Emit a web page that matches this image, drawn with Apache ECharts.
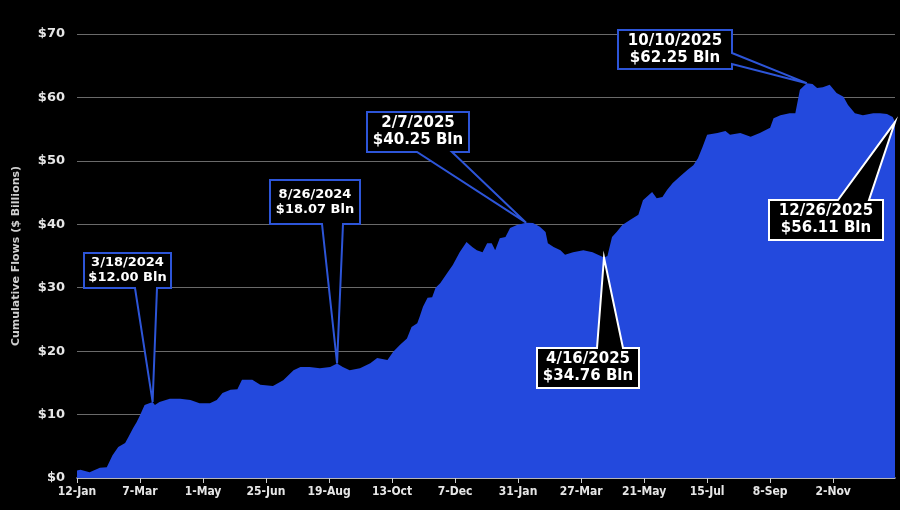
<!DOCTYPE html>
<html>
<head>
<meta charset="utf-8">
<script src="https://cdn.jsdelivr.net/npm/echarts@6/dist/echarts.min.js"></script>
<style>
html,body{margin:0;padding:0;background:#000;}
#chart{width:900px;height:510px;}
</style>
</head>
<body>
<div id="chart"></div>
<script>
// ---- DATA ----
const dates = [
'2024-01-12','2024-01-15','2024-01-23','2024-02-01','2024-02-07','2024-02-12','2024-02-17','2024-02-23','2024-02-26','2024-03-01',
'2024-03-04','2024-03-07','2024-03-11','2024-03-18','2024-03-20','2024-03-24','2024-04-02','2024-04-11','2024-04-20','2024-04-28',
'2024-05-07','2024-05-13','2024-05-18','2024-05-25','2024-05-31','2024-06-04','2024-06-13','2024-06-20','2024-07-01','2024-07-10',
'2024-07-19','2024-07-25','2024-08-02','2024-08-11','2024-08-20','2024-08-26','2024-08-31','2024-09-06','2024-09-15','2024-09-24',
'2024-09-30','2024-10-09','2024-10-14','2024-10-20','2024-10-26','2024-10-30','2024-11-04','2024-11-06','2024-11-09','2024-11-13',
'2024-11-17','2024-11-20','2024-11-24','2024-11-30','2024-12-05','2024-12-11','2024-12-17','2024-12-22','2024-12-26','2024-12-31',
'2025-01-04','2025-01-08','2025-01-11','2025-01-15','2025-01-20','2025-01-24','2025-01-30','2025-02-07','2025-02-13','2025-02-19',
'2025-02-24','2025-02-26','2025-03-03','2025-03-09','2025-03-13','2025-03-20','2025-03-29','2025-04-06','2025-04-16','2025-04-19',
'2025-04-23','2025-04-27','2025-05-02','2025-05-09','2025-05-16','2025-05-20','2025-05-28','2025-06-01','2025-06-06','2025-06-10',
'2025-06-15','2025-06-21','2025-06-28','2025-07-03','2025-07-07','2025-07-11','2025-07-15','2025-07-24','2025-07-31','2025-08-04',
'2025-08-13','2025-08-22','2025-08-30','2025-09-08','2025-09-11','2025-09-17','2025-09-25','2025-09-30','2025-10-04','2025-10-10',
'2025-10-15','2025-10-19','2025-10-24','2025-10-30','2025-11-05','2025-11-11','2025-11-15','2025-11-21','2025-11-28','2025-12-07',
'2025-12-13','2025-12-19','2025-12-24','2025-12-26'
];
const flows = [
1.2,1.3,0.9,1.6,1.7,3.6,4.9,5.5,6.5,7.9,
8.8,9.9,11.5,12.0,11.5,12.0,12.5,12.5,12.3,11.8,
11.8,12.3,13.4,13.9,14.0,15.5,15.5,14.7,14.5,15.4,
17.0,17.5,17.5,17.3,17.5,18.07,17.5,17.0,17.3,18.1,
18.9,18.6,19.9,21.0,22.0,23.8,24.4,25.4,27.0,28.4,
28.5,30.0,30.7,32.3,33.6,35.6,37.2,36.4,35.9,35.6,
37.0,37.0,35.9,37.8,38.0,39.4,39.9,40.25,40.2,39.6,
38.8,37.0,36.4,35.9,35.2,35.6,35.9,35.6,34.76,35.0,
38.0,38.8,39.9,40.7,41.5,43.8,45.1,44.1,44.3,45.4,
46.5,47.5,48.6,49.3,50.4,52.2,54.1,54.4,54.7,54.1,
54.4,53.8,54.4,55.2,56.7,57.2,57.5,57.5,61.2,62.25,
62.1,61.5,61.6,62.0,60.7,60.1,58.8,57.5,57.2,57.5,
57.5,57.4,56.9,56.11
];
const axisStartDate = '2024-01-12';
const axisEndDate = '2025-12-26';
const tickIntervalDays = 55;
const yTicks = [0,10,20,30,40,50,60,70];
const calloutDates = ['2024-03-18','2024-08-26','2025-02-07','2025-04-16','2025-10-10','2025-12-26'];
const calloutValues = [12.00,18.07,40.25,34.76,62.25,56.11];
const monthNames = ['Jan','Feb','Mar','Apr','May','Jun','Jul','Aug','Sep','Oct','Nov','Dec'];

// ---- helpers ----
function utc(s){const p=s.split('-').map(Number);return Date.UTC(p[0],p[1]-1,p[2]);}
const DAY = 86400000;
const t0 = utc(axisStartDate);
function dayOff(s){return Math.round((utc(s)-t0)/DAY);}
const xMax = dayOff(axisEndDate);
const seriesData = dates.map((d,i)=>[dayOff(d), flows[i]]);

// ---- layout / style for callouts ----
const BLUE_BORDER = '#2d55d8';
const calloutLayout = [
  {x:84, y:253, w:87,  h:35, edge:'bottom', a:135, b:157, color:BLUE_BORDER, fs:13, lh:15},
  {x:270,y:180, w:90,  h:44, edge:'bottom', a:322, b:343, color:BLUE_BORDER, fs:13, lh:15},
  {x:367,y:112, w:102, h:40, edge:'bottom', a:417, b:452, color:BLUE_BORDER, fs:15, lh:17},
  {x:537,y:348, w:102, h:40, edge:'top',    a:597, b:623, color:'#ffffff',   fs:15, lh:17},
  {x:618,y:30,  w:114, h:39, edge:'right',  a:53,  b:64,  color:BLUE_BORDER, fs:15, lh:17},
  {x:769,y:200, w:114, h:40, edge:'top',    a:838, b:869, color:'#ffffff',   fs:15, lh:17}
];

const chart = echarts.init(document.getElementById('chart'));
const labelFont = 'DejaVu Sans';
const condFont = "'DejaVu Sans Condensed', 'Liberation Sans Narrow', 'Liberation Sans', sans-serif";
chart.setOption({
  backgroundColor:'#000',
  animation:false,
  grid:{left:77, right:5, top:34, bottom:32, containLabel:false},
  xAxis:{
    type:'value', min:0, max:xMax, interval:tickIntervalDays,
    axisLine:{show:true, lineStyle:{color:'#cfcfcf', width:1.5}},
    axisTick:{show:true, length:5, lineStyle:{color:'#cfcfcf'}},
    splitLine:{show:false},
    axisLabel:{
      color:'#e6e6e6', fontFamily:condFont, fontWeight:'bold', fontSize:12, margin:8,
      showMaxLabel:false,
      formatter:function(v){
        if (v % tickIntervalDays !== 0) return '';
        const d = new Date(t0 + v*DAY);
        return d.getUTCDate() + '-' + monthNames[d.getUTCMonth()];
      }
    }
  },
  yAxis:{
    type:'value', min:yTicks[0], max:yTicks[yTicks.length-1], interval:yTicks[1]-yTicks[0],
    name:'Cumulative Flows ($ Billions)', nameLocation:'middle', nameGap:55, nameRotate:90,
    nameTextStyle:{color:'#d0d0d0', fontFamily:labelFont, fontWeight:'bold', fontSize:11},
    axisLine:{show:false}, axisTick:{show:false},
    splitLine:{show:true, lineStyle:{color:'#6a6a6a', width:1}},
    axisLabel:{color:'#e6e6e6', fontFamily:labelFont, fontWeight:'bold', fontSize:13, margin:12,
      formatter:function(v){return '$'+v;}}
  },
  series:[{
    type:'line', data:seriesData, symbol:'none', smooth:false,
    lineStyle:{width:0, color:'#2349dd'},
    areaStyle:{color:'#2349dd', opacity:1},
    z:2
  }]
});

// ---- callouts anchored to data via axis scales ----
function fmtDate(s){const p=s.split('-').map(Number);return p[1]+'/'+p[2]+'/'+p[0];}
const graphics = [];
calloutDates.forEach((ds,i)=>{
  const L = calloutLayout[i];
  const tip = chart.convertToPixel({gridIndex:0},[dayOff(ds), calloutValues[i]]);
  const x1=L.x, y1=L.y, x2=L.x+L.w, y2=L.y+L.h;
  let pts;
  if (L.edge==='bottom') pts=[[x1,y1],[x2,y1],[x2,y2],[L.b,y2],tip,[L.a,y2],[x1,y2]];
  else if (L.edge==='top') pts=[[x1,y1],[L.a,y1],tip,[L.b,y1],[x2,y1],[x2,y2],[x1,y2]];
  else pts=[[x1,y1],[x2,y1],[x2,L.a],tip,[x2,L.b],[x2,y2],[x1,y2]];
  graphics.push({type:'polygon', z:100, shape:{points:pts},
    style:{fill:'#000', stroke:L.color, lineWidth:2, lineJoin:'miter'}});
  graphics.push({type:'text', z:101, x:(x1+x2)/2, y:(y1+y2)/2,
    style:{text:fmtDate(ds)+'\n$'+calloutValues[i].toFixed(2)+' Bln',
      fill:'#fff', font:'bold '+L.fs+'px "DejaVu Sans"', lineHeight:L.lh,
      align:'center', verticalAlign:'middle'}});
});
chart.setOption({graphic:graphics});
</script>
</body>
</html>
